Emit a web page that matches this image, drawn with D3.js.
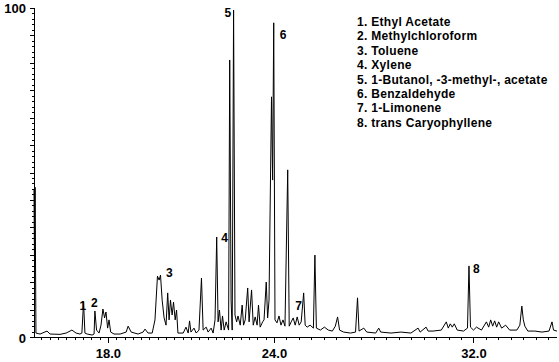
<!DOCTYPE html>
<html>
<head>
<meta charset="utf-8">
<script src="https://cdn.jsdelivr.net/npm/d3@7"></script>
<style>
body { margin: 0; background: #fff; }
text { font-family: "Liberation Sans", Arial, sans-serif; fill: #000; }
</style>
</head>
<body>
<svg id="chart"></svg>
<script>
// chromatogram trace, retention time (min) and relative abundance (%)
var traceTime = [15.33, 15.35, 15.37, 15.40, 15.55, 15.80, 15.91, 16.27, 16.49, 16.70, 16.85,
  16.99, 17.06, 17.12, 17.17, 17.25, 17.43, 17.50, 17.53, 17.59, 17.68,
  17.75, 17.82, 17.88, 17.93, 17.99, 18.04, 18.10, 18.22, 18.44, 18.66,
  18.73, 18.84, 19.09, 19.27, 19.34, 19.45, 19.60, 19.70, 19.79, 19.85,
  19.90, 19.96, 20.03, 20.10, 20.16, 20.21, 20.26, 20.32, 20.37, 20.43,
  20.48, 20.53, 20.72, 20.82, 20.90, 20.95, 21.00, 21.11, 21.19, 21.29,
  21.38, 21.44, 21.55, 21.62, 21.73, 21.80, 21.87, 21.93, 21.98, 22.03,
  22.09, 22.14, 22.20, 22.27, 22.36, 22.40, 22.45, 22.49, 22.54, 22.59,
  22.65, 22.70, 22.78, 22.85, 22.90, 22.96, 23.05, 23.10, 23.19, 23.25,
  23.32, 23.39, 23.44, 23.50, 23.59, 23.64, 23.72, 23.77, 23.82, 23.91,
  23.95, 23.99, 24.04, 24.12, 24.20, 24.28, 24.36, 24.44, 24.55, 24.61,
  24.69, 24.77, 24.85, 24.93, 25.01, 25.09, 25.19, 25.25, 25.33, 25.45,
  25.58, 25.64, 25.70, 25.86, 26.02, 26.18, 26.34, 26.46, 26.55, 26.63,
  26.79, 27.07, 27.27, 27.35, 27.41, 27.60, 27.72, 28.08, 28.20, 28.28,
  28.69, 29.09, 29.49, 29.78, 29.86, 30.10, 30.18, 30.38, 30.71, 30.91,
  30.99, 31.07, 31.15, 31.23, 31.35, 31.60, 31.76, 31.82, 31.88, 32.00,
  32.12, 32.32, 32.52, 32.61, 32.69, 32.77, 32.85, 32.93, 33.01, 33.13,
  33.29, 33.45, 33.74, 33.86, 33.94, 34.00, 34.06, 34.18, 34.46, 34.75,
  35.03, 35.15, 35.21, 35.35];
var traceValue = [44.7, 20.0, 45.5, 1.2, 0.9, 1.8, 0.9, 0.8, 1.2, 2.1, 1.2,
  0.9, 1.2, 10.6, 1.2, 0.9, 0.6, 0.9, 7.9, 2.1, 1.2,
  3.6, 8.5, 5.8, 7.6, 2.7, 5.2, 1.5, 0.9, 0.9, 1.5,
  3.3, 1.5, 0.9, 1.5, 2.4, 1.2, 1.2, 5.2, 18.5, 17.3,
  18.8, 11.2, 5.8, 3.6, 13.4, 5.2, 11.2, 6.7, 10.6, 5.2,
  8.2, 1.2, 1.2, 3.0, 1.2, 4.9, 1.5, 2.7, 1.2, 2.1,
  17.9, 2.1, 3.0, 1.5, 2.7, 1.2, 5.2, 30.4, 4.6, 8.2,
  2.1, 6.4, 2.1, 4.6, 2.1, 84.2, 11.2, 2.1, 99.4, 6.7,
  4.6, 6.4, 3.6, 9.7, 3.6, 5.2, 14.9, 4.6, 14.3, 3.6,
  6.1, 3.6, 9.7, 3.0, 4.6, 5.2, 16.7, 5.8, 11.2, 73.0,
  47.7, 95.5, 5.2, 4.3, 6.4, 3.6, 5.2, 3.3, 50.8, 3.3,
  4.6, 5.8, 3.6, 6.1, 3.6, 4.6, 13.4, 3.6, 3.0, 3.6,
  2.7, 24.9, 2.7, 2.1, 3.0, 2.1, 1.8, 3.3, 6.1, 2.1,
  1.5, 1.2, 1.5, 11.9, 1.8, 2.7, 1.5, 1.2, 2.7, 1.5,
  1.2, 1.5, 1.2, 2.7, 1.5, 3.0, 1.8, 1.8, 2.1, 4.6,
  2.7, 4.0, 3.0, 4.0, 2.1, 1.8, 2.7, 21.6, 3.0, 2.1,
  3.0, 2.1, 4.6, 3.0, 5.2, 3.3, 4.9, 3.0, 4.6, 2.7,
  3.6, 2.1, 2.1, 3.6, 9.4, 5.2, 3.3, 1.8, 1.8, 1.5,
  1.8, 4.6, 2.1, 1.8];

// labelled peaks
var peakNumber = ["1", "2", "3", "4", "5", "6", "7", "8"];
var peakTime = [17.12, 17.53, 19.90, 21.93, 22.54, 23.99, 24.93, 31.82];
var peakValue = [10.6, 7.9, 18.8, 30.4, 99.4, 95.5, 6.1, 21.6];
var compounds = ["Ethyl Acetate", "Methylchloroform", "Toluene", "Xylene",
  "1-Butanol, -3-methyl-, acetate", "Benzaldehyde", "1-Limonene", "trans Caryophyllene"];

// axis labels
var xTickLabels = [18.0, 24.0, 32.0];
var yTickLabels = [0, 100];

// parameters
var width = 559;
var height = 362;

var svg = d3.select("#chart");
svg.attr("width", width);
svg.attr("height", height);

// time axis is not quite linear, labels sit on their own spots
var x = d3.scaleLinear().domain([15.33, 24, 35.35]).range([34, 274, 557]);
var y = d3.scaleLinear().domain([0, 100]).range([337, 8]);

// y axis, minor then major ticks
var yMinor = d3.range(0, 100.01, 100 / 60);
var yMajor = d3.range(0, 100.01, 100 / 12);

var yAxisMinor = svg.append("g")
  .attr("transform", "translate(34,0)")
  .attr("shape-rendering", "crispEdges")
  .call(d3.axisLeft(y).tickValues(yMinor).tickSize(2).tickFormat(""));
var yAxisMajor = svg.append("g")
  .attr("transform", "translate(34,0)")
  .attr("shape-rendering", "crispEdges")
  .call(d3.axisLeft(y).tickValues(yMajor).tickSize(4).tickFormat(""));
yAxisMajor.select(".domain").remove();

for (var i = 0; i < yTickLabels.length; i += 1) {
  var label = svg.append("text");
  label.attr("x", 26);
  label.attr("y", y(yTickLabels[i]) + (yTickLabels[i] == 0 ? 6 : 5));
  label.attr("text-anchor", "end");
  label.attr("font-size", "13px");
  label.attr("font-weight", "bold");
  label.text(yTickLabels[i]);
}

// x axis
var xMinor = d3.range(15.6, 24, 0.3).concat(d3.range(24.5, 35.4, 0.5));

var xAxisMinor = svg.append("g")
  .attr("transform", "translate(0,337)")
  .attr("shape-rendering", "crispEdges")
  .call(d3.axisBottom(x).tickValues(xMinor).tickSize(3).tickFormat(""));
xAxisMinor.select(".domain").attr("d", "M34,0H557");

var xAxisMajor = svg.append("g")
  .attr("transform", "translate(0,337)")
  .attr("shape-rendering", "crispEdges")
  .call(d3.axisBottom(x).tickValues(xTickLabels).tickSize(6).tickPadding(6).tickFormat(d3.format(".1f")));
xAxisMajor.select(".domain").remove();
xAxisMajor.selectAll("text")
  .attr("font-size", "13px")
  .attr("font-weight", "bold")
  .attr("font-family", "Liberation Sans, Arial, sans-serif")
  .attr("fill", "#000");

// draw the trace
var data = [];
for (var i = 0; i < traceTime.length; i += 1) {
  data.push([x(traceTime[i]), y(traceValue[i])]);
}

var line = svg.append("path");
line.attr("d", d3.line()(data));
line.attr("stroke", "black");
line.attr("stroke-width", 1);
line.attr("fill", "none");

// peak numbers, nudged off the peak tops
var labelDx = [-4, -4, 5.5, 4.5, -9, 6, -2, 4];
var labelDy = [8, -4, 2, 5, 7, 16, -7, 7];

for (var i = 0; i < peakNumber.length; i += 1) {
  var text = svg.append("text");
  text.attr("x", x(peakTime[i]) + labelDx[i]);
  text.attr("y", y(peakValue[i]) + labelDy[i]);
  text.attr("font-size", "12px");
  text.attr("font-weight", "bold");
  text.text(peakNumber[i]);
}

// legend
for (var i = 0; i < compounds.length; i += 1) {
  var text = svg.append("text");
  text.attr("x", 357);
  text.attr("y", 26 + i * 14.4);
  text.attr("font-size", "12px");
  text.attr("font-weight", "bold");
  text.attr("letter-spacing", "0.3px");
  text.text(peakNumber[i] + ". " + compounds[i]);
}
</script>
</body>
</html>
